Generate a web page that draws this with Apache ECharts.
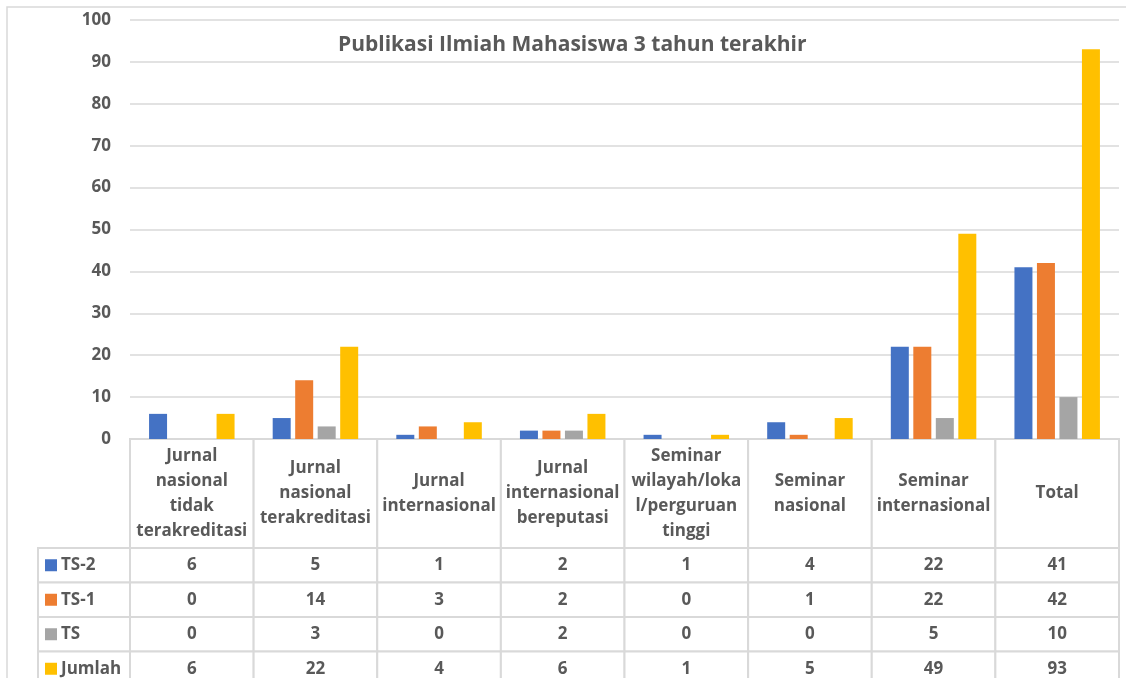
<!DOCTYPE html>
<html>
<head>
<meta charset="utf-8">
<script src="https://cdn.jsdelivr.net/npm/echarts@6/dist/echarts.min.js"></script>
<style>
  html, body { margin: 0; padding: 0; background: #fff; overflow: hidden; }
  #chart { width: 1126px; height: 700px; }
</style>
</head>
<body>
<div id="chart"></div>
<script>
// categories (header text keeps the Excel line breaks)
const categories = [
  'Jurnal\nnasional\ntidak\nterakreditasi',
  'Jurnal\nnasional\nterakreditasi',
  'Jurnal\ninternasional',
  'Jurnal\ninternasional\nbereputasi',
  'Seminar\nwilayah/loka\nl/perguruan\ntinggi',
  'Seminar\nnasional',
  'Seminar\ninternasional',
  'Total'
]
const seriesNames = ['TS-2', 'TS-1', 'TS', 'Jumlah']
const ts2 = [6, 5, 1, 2, 1, 4, 22, 41]
const ts1 = [0, 14, 3, 2, 0, 1, 22, 42]
const ts = [0, 3, 0, 2, 0, 0, 5, 10]
const jumlah = [6, 22, 4, 6, 1, 5, 49, 93]
const yTicks = [0, 100, 10] // min, max, interval

const colors = ['#4472C4', '#ED7D31', '#A5A5A5', '#FFC000']
const seriesValues = [ts2, ts1, ts, jumlah]
const textColor = '#595959'
const lineColor = '#d9d9d9'
const fontFamily = '"Open Sans", Lato, sans-serif'

const chart = echarts.init(document.getElementById('chart'))

// table cells built from the data arrays
const headerCells = categories.map((c, j) => [j, 0, c])
const valueCells = []
seriesValues.forEach((arr, i) => {
  arr.forEach((v, j) => valueCells.push([j, i, v]))
})
const labelCells = seriesNames.map((n, i) => [0, i, n])

function cellRect(params, api) {
  const c = api.coord([api.value(0), api.value(1)])
  const s = api.size([1, 1])
  return { x: c[0] - s[0] / 2, y: c[1] - s[1] / 2, w: s[0], h: s[1], cx: c[0], cy: c[1] }
}

function textCell(params, api) {
  const r = cellRect(params, api)
  return {
    type: 'group',
    children: [{
      type: 'rect',
      shape: { x: r.x, y: r.y, width: r.w, height: r.h },
      style: { fill: '#fff', stroke: lineColor, lineWidth: 2 }
    }, {
      type: 'text',
      x: r.cx,
      y: r.cy,
      style: {
        text: String(api.value(2)),
        fill: textColor,
        font: 'bold 17px ' + fontFamily,
        align: 'center',
        verticalAlign: 'middle',
        lineHeight: 25
      }
    }]
  }
}

function labelCell(params, api) {
  const r = cellRect(params, api)
  const idx = params.dataIndex
  return {
    type: 'group',
    children: [{
      type: 'rect',
      shape: { x: r.x, y: r.y, width: r.w, height: r.h },
      style: { fill: '#fff', stroke: lineColor, lineWidth: 2 }
    }, {
      type: 'rect',
      shape: { x: r.x + 7, y: r.cy - 6, width: 12, height: 12 },
      style: { fill: colors[idx] }
    }, {
      type: 'text',
      x: r.x + 23,
      y: r.cy,
      style: {
        text: seriesNames[idx],
        fill: textColor,
        font: 'bold 17px ' + fontFamily,
        align: 'left',
        verticalAlign: 'middle'
      }
    }]
  }
}

const barSeries = seriesNames.map((name, i) => ({
  name: name,
  type: 'bar',
  xAxisIndex: 0,
  yAxisIndex: 0,
  barWidth: 18,
  barGap: '25%',
  itemStyle: { color: colors[i] },
  data: seriesValues[i]
}))

chart.setOption({
  backgroundColor: '#fff',
  animation: false,
  textStyle: { fontFamily: fontFamily },
  title: {
    text: 'Publikasi Ilmiah Mahasiswa 3 tahun terakhir',
    left: 333,
    top: 30,
    textStyle: { fontSize: 21, fontWeight: 'bold', color: textColor, fontFamily: fontFamily }
  },
  graphic: [{
    type: 'rect',
    z: -10,
    shape: { x: 7, y: 7, width: 1200, height: 800 },
    style: { fill: 'none', stroke: lineColor, lineWidth: 1.5 }
  }],
  grid: [
    { left: 130, right: 7, top: 20, height: 419 },
    { left: 130, right: 7, top: 439, height: 109 },
    { left: 130, right: 7, top: 548, height: 138 },
    { left: 38, width: 92, top: 548, height: 138 }
  ],
  xAxis: [
    {
      gridIndex: 0,
      type: 'category',
      data: categories,
      axisLine: { show: false },
      axisTick: { show: false },
      axisLabel: { show: false }
    },
    { gridIndex: 1, type: 'category', data: categories, show: false },
    { gridIndex: 2, type: 'category', data: categories, show: false },
    { gridIndex: 3, type: 'category', data: ['label'], show: false }
  ],
  yAxis: [
    {
      gridIndex: 0,
      type: 'value',
      min: yTicks[0],
      max: yTicks[1],
      interval: yTicks[2],
      axisLine: { show: false },
      axisTick: { show: false },
      axisLabel: {
        margin: 19,
        color: textColor,
        fontSize: 17,
        fontWeight: 'bold',
        fontFamily: fontFamily
      },
      splitLine: { lineStyle: { color: lineColor, width: 1.5 } }
    },
    { gridIndex: 1, type: 'category', data: ['header'], show: false },
    { gridIndex: 2, type: 'category', data: seriesNames, inverse: true, show: false },
    { gridIndex: 3, type: 'category', data: seriesNames, inverse: true, show: false }
  ],
  series: barSeries.concat([
    {
      type: 'custom',
      xAxisIndex: 1,
      yAxisIndex: 1,
      renderItem: textCell,
      data: headerCells,
      silent: true
    },
    {
      type: 'custom',
      xAxisIndex: 2,
      yAxisIndex: 2,
      renderItem: textCell,
      data: valueCells,
      silent: true
    },
    {
      type: 'custom',
      xAxisIndex: 3,
      yAxisIndex: 3,
      renderItem: labelCell,
      data: labelCells,
      silent: true
    }
  ])
})
</script>
</body>
</html>
